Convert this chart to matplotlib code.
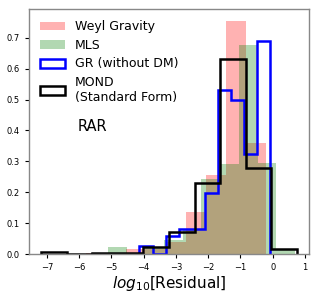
import matplotlib
matplotlib.use("Agg")
import matplotlib.pyplot as plt
import numpy as np

# density histograms: bin edges and heights per model
weyl_edges = np.linspace(-6.42, -0.22, 11)
weyl_vals = [0.0, 0.005, 0.005, 0.015, 0.015, 0.04, 0.135, 0.255, 0.755, 0.36]

mls_edges = np.linspace(-5.11, 0.69, 11)
mls_vals = [0.024, 0.005, 0.02, 0.045, 0.08, 0.243, 0.29, 0.677, 0.295, 0.017]

gr_edges = np.linspace(-4.13, -0.09, 11)
gr_vals = [0.025, 0.0, 0.06, 0.082, 0.082, 0.197, 0.53, 0.497, 0.324, 0.69]

mond_edges = np.linspace(-7.17, 0.74, 11)
mond_vals = [0.006, 0.0, 0.005, 0.005, 0.022, 0.07, 0.23, 0.632, 0.28, 0.017]


def centers(edges):
    return 0.5 * (edges[:-1] + edges[1:])


fig = plt.figure(figsize=(3.18, 3.0), dpi=100)
ax = fig.add_axes([0.09, 0.153, 0.883, 0.817])

ax.hist(centers(weyl_edges), bins=weyl_edges, weights=weyl_vals,
        color="red", alpha=0.3, label="Weyl Gravity")
ax.hist(centers(mls_edges), bins=mls_edges, weights=mls_vals,
        color="green", alpha=0.3, label="MLS")
ax.hist(centers(gr_edges), bins=gr_edges, weights=gr_vals,
        histtype="step", color="blue", linewidth=1.8, label="GR (without DM)")
ax.hist(centers(mond_edges), bins=mond_edges, weights=mond_vals,
        histtype="step", color="black", linewidth=1.8,
        label="MOND\n(Standard Form)")

ax.set_xticks(np.arange(-7, 2, 1))
ax.set_yticks(np.arange(0, 0.8, 0.1))
ax.tick_params(labelsize=6, length=3, width=0.8)
for s in ax.spines.values():
    s.set_color("#888888")
    s.set_linewidth(1.0)

ax.set_xlabel(r"$log_{10}$[Residual]", fontsize=11, labelpad=1)
ax.text(0.176, 0.503, "RAR", transform=ax.transAxes, fontsize=10.5)
ax.legend(loc="upper left", frameon=False, fontsize=9,
          handletextpad=0.8, labelspacing=0.45)

fig.savefig("out.png", dpi=100)
